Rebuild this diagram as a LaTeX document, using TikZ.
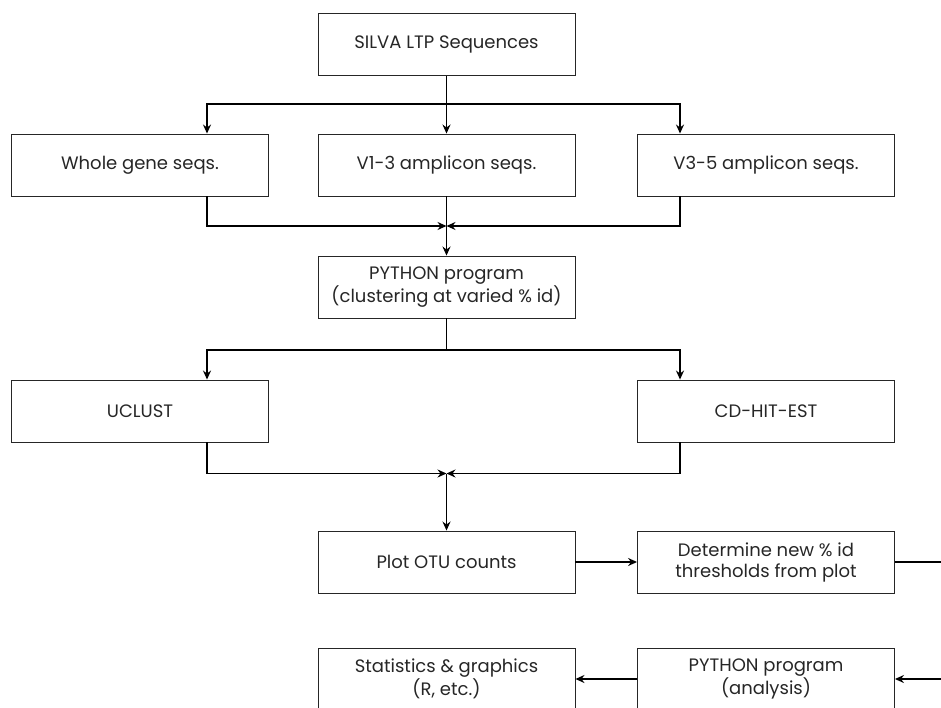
\documentclass[tikz,border=0pt]{standalone}
\usepackage{fontspec}
\setmainfont{Poppins}
\usetikzlibrary{arrows.meta,calc}
\begin{document}
\begin{tikzpicture}[x=1pt,y=-1pt,
  box/.style={draw=black!85,line width=0.9pt,minimum width=257pt,minimum height=62pt,inner sep=0pt,align=center,font=\fontsize{18}{21}\selectfont,text=black!85},
  conn/.style={line width=1.5pt,-{Stealth[length=9pt,width=8pt,inset=3pt]}},
  plain/.style={line width=1.5pt}]
\useasboundingbox (0,0) rectangle (941,708);
\node[box] (silva) at (446.5,44.5) {SILVA LTP Sequences};
\node[box] (whole) at (140,165) {Whole gene seqs.};
\node[box] (v13) at (446.5,165) {V1-3 amplicon seqs.};
\node[box] (v35) at (766,165) {V3-5 amplicon seqs.};
\node[box] (py1) at (446.5,287) {PYTHON program\\(clustering at varied \% id)};
\node[box] (uclust) at (140,411) {UCLUST};
\node[box] (cdhit) at (766,411) {CD-HIT-EST};
\node[box] (plot) at (446.5,562) {Plot OTU counts};
\node[box] (det) at (766,562) {Determine new \% id\\thresholds from plot};
\node[box] (pyan) at (766,679) {PYTHON program\\(analysis)};
\node[box] (stats) at (446.5,679) {Statistics \& graphics\\(R, etc.)};
\coordinate (j1) at (446.5,104);
\coordinate (j2) at (446.5,226);
\coordinate (j3) at (446.5,350);
\coordinate (j4) at (446.5,473.5);
\coordinate (eR1) at (941,560);
\coordinate (eR2) at (941,679);
% top split
\draw[plain] (silva.south) -- (j1);
\draw[conn] (j1) -| ([xshift=67pt]whole.north);
\draw[conn] (j1) -| ([xshift=-86pt]v35.north);
\draw[conn] (j1) -- (v13.north);
% merge 1
\draw[conn] ([xshift=67pt]whole.south) |- (j2);
\draw[conn] ([xshift=-86pt]v35.south) |- (j2);
\draw[conn] (v13.south) -- (py1.north);
% split 2
\draw[plain] (py1.south) -- (j3);
\draw[conn] (j3) -| ([xshift=67pt]uclust.north);
\draw[conn] (j3) -| ([xshift=-86pt]cdhit.north);
% merge 2
\draw[conn] ([xshift=67pt]uclust.south) |- (j4);
\draw[conn] ([xshift=-86pt]cdhit.south) |- (j4);
\draw[conn] (j4) -- (plot.north);
% bottom row
\draw[conn] (plot.east) -- (det.west);
\draw[plain] (det.east) -- (det.east -| eR1);
\draw[conn] (eR2) -- (pyan.east);
\draw[conn] (pyan.west) -- (stats.east);
\end{tikzpicture}
\end{document}
